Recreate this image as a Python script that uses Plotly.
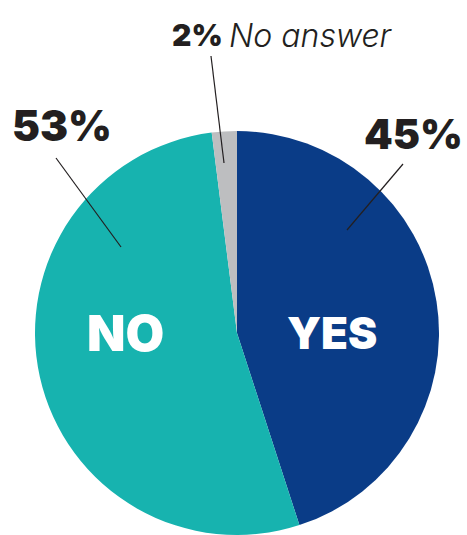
import plotly.graph_objects as go

W, H = 467, 535

categories = ["YES", "NO", "No answer"]
values = [45, 53, 2]
pct_labels = ["45%", "53%", "2%"]
colors = ["#0A3C87", "#17B3AF", "#BDBEC0"]

def px(x):
    return x / W

def py(y):
    return 1 - y / H

fig = go.Figure(go.Pie(
    labels=categories,
    values=values,
    sort=False,
    direction="clockwise",
    rotation=0,
    marker=dict(colors=colors, line=dict(width=0)),
    textinfo="none",
    hoverinfo="label+percent",
    showlegend=False,
    domain=dict(x=[34 / W, 440 / W], y=[0, 404 / H]),
))

FONT = "Inter"
dark = "#231F20"
ann = []
# inside labels
ann.append(dict(x=px(126), y=py(333), text=categories[1], showarrow=False,
                xanchor="center", yanchor="middle",
                font=dict(family=FONT, size=50, color="white", weight=900)))
ann.append(dict(x=px(332), y=py(333), text=categories[0], showarrow=False,
                xanchor="center", yanchor="middle",
                font=dict(family=FONT, size=44, color="white", weight=900)))
# outside percentage labels
ann.append(dict(x=px(10), y=py(126), text=pct_labels[1], showarrow=False,
                xanchor="left", yanchor="middle",
                font=dict(family=FONT, size=42, color=dark, weight=900)))
ann.append(dict(x=px(465), y=py(134), text=pct_labels[0], showarrow=False,
                xanchor="right", yanchor="middle",
                font=dict(family=FONT, size=41, color=dark, weight=900)))
ann.append(dict(x=px(170), y=py(35), text=pct_labels[2], showarrow=False,
                xanchor="left", yanchor="middle",
                font=dict(family=FONT, size=30, color=dark, weight=900)))
ann.append(dict(x=px(227), y=py(35), text=categories[2], showarrow=False,
                xanchor="left", yanchor="middle",
                font=dict(family=FONT, size=32, color=dark, weight=300, style="italic")))

shapes = [
    dict(type="line", xref="paper", yref="paper", x0=px(56), y0=py(158), x1=px(121), y1=py(247),
         line=dict(color=dark, width=1.2)),
    dict(type="line", xref="paper", yref="paper", x0=px(403), y0=py(164), x1=px(347), y1=py(230),
         line=dict(color=dark, width=1.2)),
    dict(type="line", xref="paper", yref="paper", x0=px(211), y0=py(56), x1=px(224), y1=py(163),
         line=dict(color=dark, width=1.2)),
]

fig.update_layout(
    width=W, height=H,
    margin=dict(l=0, r=0, t=0, b=0),
    paper_bgcolor="white", plot_bgcolor="white",
    annotations=ann, shapes=shapes,
)

fig.write_html("out.html")
